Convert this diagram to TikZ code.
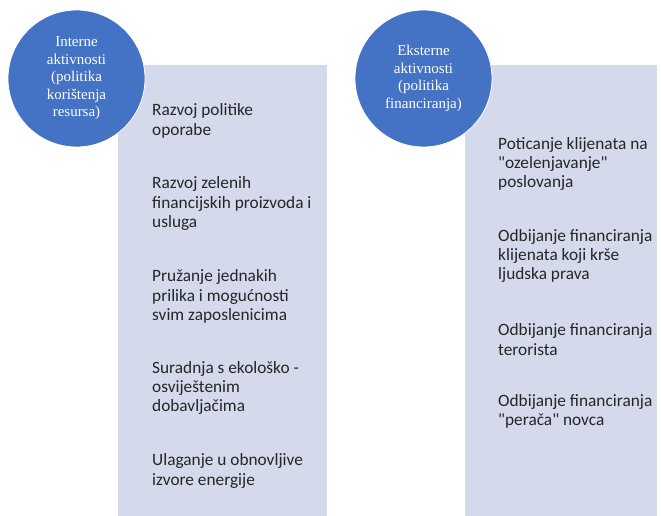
\documentclass[tikz,border=0pt]{standalone}
\usepackage{fontspec}
\setmainfont{Carlito}[Ligatures=TeXOff]
\newfontfamily\circfont{Liberation Serif}
\definecolor{circblue}{HTML}{4472C4}
\definecolor{boxfill}{HTML}{D5D9EC}
\definecolor{txtgray}{HTML}{262626}
\begin{document}
\begin{tikzpicture}[x=1pt,y=-1pt,
  panel/.style={fill=boxfill, draw=none},
  bubble/.style={circle, fill=circblue, draw=white, line width=0.8pt, minimum size=137pt, inner sep=0pt,
     text=white, align=center, font=\circfont\fontsize{15}{17.5}\selectfont},
  item/.style={anchor=west, align=left, inner sep=0pt, text=txtgray, font=\fontsize{17.3}{19.3}\selectfont}]
\useasboundingbox (0,0) rectangle (661,516);
\fill[boxfill] (118,65) rectangle (327,516);
\fill[boxfill] (465,65) rectangle (657,516);
\node[bubble] (c1) at (76.5,78.5) {Interne\\aktivnosti\\(politika\\korištenja\\resursa)};
\node[bubble] (c2) at (423.5,78.5) {Eksterne\\aktivnosti\\(politika\\financiranja)};
\node[item] (l1) at (152,121) {Razvoj politike\\oporabe};
\node[item] (l2) at (152,203.5) {Razvoj zelenih\\financijskih proizvoda i\\usluga};
\node[item] (l3) at (152,296.5) {Pružanje jednakih\\prilika i mogućnosti\\svim zaposlenicima};
\node[item] (l4) at (152,388) {Suradnja s ekološko -\\osviještenim\\dobavljačima};
\node[item] (l5) at (152,471) {Ulaganje u obnovljive\\izvore energije};
\node[item] (r1) at (498,164) {Poticanje klijenata na\\"ozelenjavanje"\\poslovanja};
\node[item] (r2) at (498,256) {Odbijanje financiranja\\klijenata koji krše\\ljudska prava};
\node[item] (r3) at (498,339.5) {Odbijanje financiranja\\terorista};
\node[item] (r4) at (498,411.5) {Odbijanje financiranja\\"perača" novca};
\end{tikzpicture}
\end{document}
